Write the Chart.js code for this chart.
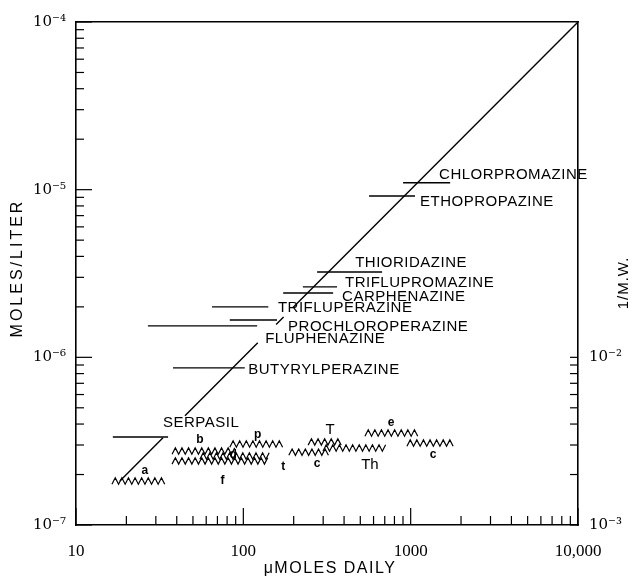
<!DOCTYPE html>
<html>
<head>
<meta charset="utf-8">
<script src="https://cdn.jsdelivr.net/npm/chart.js@4.4.1/dist/chart.umd.min.js"></script>
<style>
  html, body { margin: 0; padding: 0; background: #fff; }
  #wrap { width: 642px; height: 579px; }
</style>
</head>
<body>
<div id="wrap"><canvas id="c" width="642" height="579"></canvas></div>
<script>
// Drug dose ranges (umoles daily) against MOLES/LITER
const drugNames = ['CHLORPROMAZINE', 'ETHOPROPAZINE', 'THIORIDAZINE', 'TRIFLUPROMAZINE', 'CARPHENAZINE',
  'TRIFLUPERAZINE', 'PROCHLOROPERAZINE', 'FLUPHENAZINE', 'BUTYRYLPERAZINE', 'SERPASIL']
const drugLow = [901, 564, 276, 227, 173, 65, 83, 26.9, 38, 16.6]
const drugHigh = [1722, 1062, 675, 363, 344, 141, 159, 121, 102, 35.5]
const drugMolar = [1.10e-5, 9.17e-6, 3.23e-6, 2.63e-6, 2.42e-6, 2.00e-6, 1.67e-6, 1.54e-6, 8.65e-7, 3.35e-7]
const drugLabelX = [1479, 1138, 466, 405, 389, 161, 185, 135, 107, 33.1]
const drugLabelY = [1.22e-5, 8.45e-6, 3.66e-6, 2.78e-6, 2.29e-6, 1.97e-6, 1.52e-6, 1.29e-6, 8.41e-7, 4.06e-7]

// Diagonal reference line, broken where the labels cross it
const diagonalX = [18.3, 33.1, null, 44.8, 122, null, 157, 174, null, 198, 10000]
const diagonalY = [1.83e-7, 3.31e-7, null, 4.48e-7, 1.22e-6, null, 1.57e-6, 1.74e-6, null, 1.98e-6, 1e-4]

// Zigzag ranges against 1/M.W. (right axis)
const zigLow = [16.4, 37.5, 55, 37.5, 83, 187, 244, 299, 533, 950]
const zigHigh = [35.0, 89, 149, 145, 173, 330, 394, 733, 1138, 1866]
const zigMW = [1.83e-3, 2.76e-3, 2.58e-3, 2.41e-3, 3.04e-3, 2.72e-3, 3.13e-3, 2.88e-3, 3.54e-3, 3.08e-3]

const zigLetters = ['a', 'b', 'p', 'd', 't', 'f', 'c', 'T', 'Th', 'e', 'c']
const zigLetterX = [25.8, 55, 122, 87, 173, 75, 276, 330, 571, 764, 1361]
const zigLetterY = [2.10e-3, 3.21e-3, 3.44e-3, 2.61e-3, 2.22e-3, 1.85e-3, 2.31e-3, 3.69e-3, 2.28e-3, 4.06e-3, 2.61e-3]

// Axes
const xMajor = [10, 100, 1000, 10000]
const xTickLabels = ['10', '100', '1000', '10,000']
const yMajor = [1e-7, 1e-6, 1e-5, 1e-4]
const yTickLabels = ['10⁻⁷', '10⁻⁶', '10⁻⁵', '10⁻⁴']
const mwMajor = [1e-3, 1e-2]
const mwTickLabels = ['10⁻³', '10⁻²']
const minorSteps = [2, 3, 4, 5, 6, 7, 8, 9]

function logTicks(majors) {
  const out = []
  majors.forEach((m, i) => {
    out.push(m)
    if (i < majors.length - 1) minorSteps.forEach(s => out.push(s * m))
  })
  return out
}
const xTicks = logTicks(xMajor)
const yTicks = logTicks(yMajor)
const mwTicks = logTicks(mwMajor)

function labelFor(majors, labels, v) {
  const i = majors.findIndex(m => Math.abs(m - v) / m < 1e-6)
  return i >= 0 ? labels[i] : ''
}

const INK = '#000'
const sans = '"Liberation Sans", Arial, sans-serif'
const serif = '"Liberation Serif", "Times New Roman", serif'
const powSerif = '"DejaVu Serif", serif'

const datasets = []
datasets.push({
  data: diagonalX.map((x, i) => ({ x, y: diagonalY[i] })),
  xAxisID: 'x', yAxisID: 'y', showLine: true, spanGaps: false,
  borderColor: INK, borderWidth: 1.4, pointRadius: 0
})
drugNames.forEach((name, i) => {
  datasets.push({
    label: name,
    data: [{ x: drugLow[i], y: drugMolar[i] }, { x: drugHigh[i], y: drugMolar[i] }],
    xAxisID: 'x', yAxisID: 'y', showLine: true,
    borderColor: INK, borderWidth: 1.4, pointRadius: 0
  })
})
zigLow.forEach((lo, i) => {
  datasets.push({
    zigzag: true,
    data: [{ x: lo, y: zigMW[i] }, { x: zigHigh[i], y: zigMW[i] }],
    xAxisID: 'x', yAxisID: 'y2', showLine: false,
    borderColor: INK, pointRadius: 0
  })
})

// zigzag strokes between the two points Chart.js placed
const zigzagPlugin = {
  id: 'zigzag',
  afterDatasetsDraw(chart) {
    const ctx = chart.ctx
    ctx.save()
    ctx.strokeStyle = INK
    ctx.lineWidth = 1.2
    chart.data.datasets.forEach((ds, i) => {
      if (!ds.zigzag) return
      const pts = chart.getDatasetMeta(i).data
      const x0 = pts[0].x, x1 = pts[1].x, yc = pts[0].y
      const half = 3.3, amp = 3.2
      ctx.beginPath()
      let up = true
      ctx.moveTo(x0, yc + amp)
      for (let px = x0 + half; px <= x1; px += half) {
        ctx.lineTo(px, up ? yc - amp : yc + amp)
        up = !up
      }
      ctx.stroke()
    })
    ctx.restore()
  }
}

// text labels for drugs and zigzag letters
const labelPlugin = {
  id: 'labels',
  afterDatasetsDraw(chart) {
    const { ctx, scales: { x, y, y2 } } = chart
    ctx.save()
    ctx.fillStyle = INK
    ctx.textBaseline = 'middle'
    ctx.textAlign = 'left'
    ctx.font = '15px ' + sans
    ctx.letterSpacing = '0.5px'
    drugNames.forEach((n, i) => {
      ctx.fillText(n, x.getPixelForValue(drugLabelX[i]), y.getPixelForValue(drugLabelY[i]))
    })
    ctx.textAlign = 'center'
    ctx.letterSpacing = '0px'
    zigLetters.forEach((l, i) => {
      ctx.font = (l.length > 1 || l === 'T' ? '15px ' : 'bold 12px ') + sans
      ctx.fillText(l, x.getPixelForValue(zigLetterX[i]), y2.getPixelForValue(zigLetterY[i]))
    })
    ctx.restore()
  }
}

// inward tick marks and axis titles
const framePlugin = {
  id: 'frame',
  afterDraw(chart) {
    const { ctx, chartArea: a, scales } = chart
    ctx.save()
    ctx.strokeStyle = INK
    ctx.lineWidth = 1.2
    const seg = (x0, y0, x1, y1) => { ctx.beginPath(); ctx.moveTo(x0, y0); ctx.lineTo(x1, y1); ctx.stroke() }
    xTicks.forEach(v => {
      const px = scales.x.getPixelForValue(v)
      seg(px, a.bottom, px, a.bottom - (xMajor.includes(v) ? 17 : 9))
    })
    yTicks.forEach(v => {
      const py = scales.y.getPixelForValue(v)
      seg(a.left, py, a.left + (yMajor.includes(v) ? 16 : 8), py)
    })
    mwTicks.forEach(v => {
      const py = scales.y2.getPixelForValue(v)
      seg(a.right, py, a.right - 8, py)
    })

    ctx.fillStyle = INK
    ctx.textAlign = 'center'
    ctx.textBaseline = 'middle'
    ctx.font = '16px ' + sans
    ctx.letterSpacing = '1.5px'
    ctx.fillText('\u03bcMOLES DAILY', (a.left + a.right) / 2 + 3, 569)
    ctx.save()
    ctx.translate(18, 268)
    ctx.rotate(-Math.PI / 2)
    ctx.letterSpacing = '3px'
    ctx.fillText('MOLES/LITER', 0, 0)
    ctx.restore()
    ctx.save()
    ctx.translate(624, 283)
    ctx.rotate(-Math.PI / 2)
    ctx.letterSpacing = '1px'
    ctx.font = '15px ' + sans
    ctx.fillText('1/M.W.', 0, 0)
    ctx.restore()
    ctx.restore()
  }
}

const frameBorder = { display: true, color: INK, width: 1.6 }

new Chart(document.getElementById('c'), {
  type: 'scatter',
  data: { datasets },
  plugins: [zigzagPlugin, labelPlugin, framePlugin],
  options: {
    responsive: false,
    animation: false,
    layout: { padding: 0 },
    plugins: { legend: { display: false }, tooltip: { enabled: false } },
    scales: {
      x: {
        type: 'logarithmic', position: 'bottom', min: 10, max: 10000,
        afterBuildTicks: s => { s.ticks = xTicks.map(v => ({ value: v })) },
        afterFit: s => { s.height = 54 },
        grid: { display: false, drawTicks: false },
        border: frameBorder,
        ticks: {
          autoSkip: false, maxRotation: 0, minRotation: 0, padding: 16, color: INK,
          font: { family: serif, size: 17 },
          callback: v => labelFor(xMajor, xTickLabels, v)
        }
      },
      x2: {
        type: 'logarithmic', position: 'top', min: 10, max: 10000,
        afterFit: s => { s.height = 22 },
        grid: { display: false, drawTicks: false },
        border: frameBorder,
        ticks: { display: false }
      },
      y: {
        type: 'logarithmic', position: 'left', min: 1e-7, max: 1e-4,
        afterBuildTicks: s => { s.ticks = yTicks.map(v => ({ value: v })) },
        afterFit: s => { s.width = 76 },
        grid: { display: false, drawTicks: false },
        border: frameBorder,
        ticks: {
          autoSkip: false, padding: 10, color: INK,
          font: { family: powSerif, size: 15 },
          callback: v => labelFor(yMajor, yTickLabels, v)
        }
      },
      y2: {
        type: 'logarithmic', position: 'right', min: 1e-3, max: 1,
        afterBuildTicks: s => { s.ticks = mwTicks.map(v => ({ value: v })) },
        afterFit: s => { s.width = 64 },
        grid: { display: false, drawTicks: false },
        border: frameBorder,
        ticks: {
          autoSkip: false, padding: 11, color: INK,
          font: { family: powSerif, size: 15 },
          callback: v => labelFor(mwMajor, mwTickLabels, v)
        }
      }
    }
  }
})
</script>
</body>
</html>
